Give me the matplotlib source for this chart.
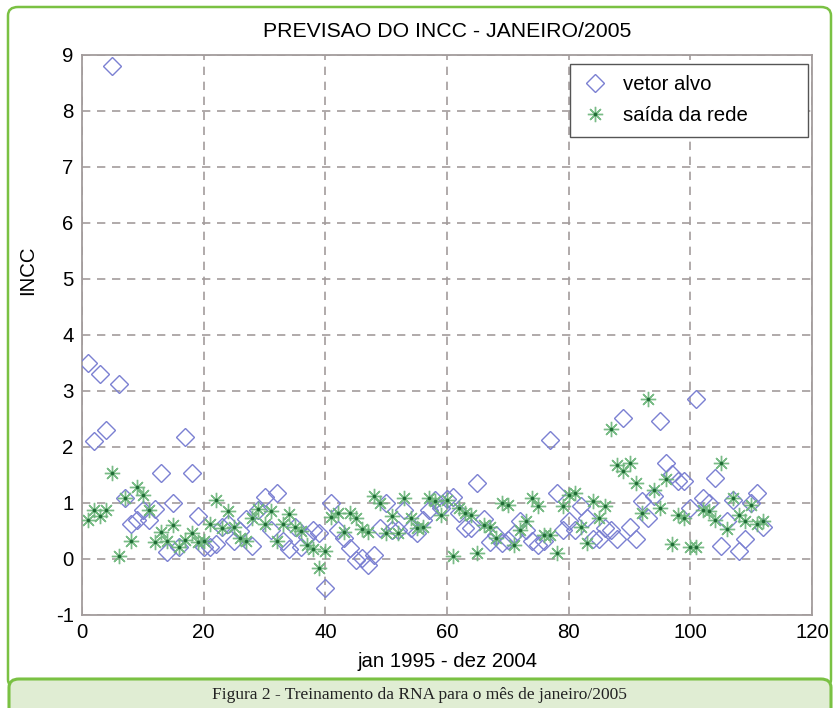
import numpy as np
import matplotlib
matplotlib.use("Agg")
import matplotlib.pyplot as plt
from matplotlib.patches import FancyBboxPatch
from matplotlib.legend_handler import HandlerTuple

# Dados (INCC mensal, jan 1995 - dez 2004)
vetor_alvo = [
    3.50, 2.10, 3.30, 2.30, 8.80, 3.12, 1.09, 0.63, 0.70, 0.88,
    0.70, 0.89, 1.54, 0.12, 1.00, 0.22, 2.17, 1.54, 0.76, 0.22,
    0.22, 0.27, 0.57, 0.62, 0.33, 0.50, 0.72, 0.24, 0.88, 1.10,
    0.52, 1.18, 0.32, 0.17, 0.58, 0.22, 0.40, 0.52, 0.46, -0.52,
    1.00, 0.52, 0.37, 0.20, -0.01, 0.02, -0.10, 0.08, 0.55, 1.00,
    0.52, 0.52, 0.88, 0.55, 0.46, 0.70, 0.88, 1.06, 0.91, 1.07,
    1.10, 0.82, 0.56, 0.56, 1.36, 0.72, 0.30, 0.42, 0.28, 0.34,
    0.45, 0.67, 0.52, 0.33, 0.25, 0.33, 2.12, 1.18, 0.52, 0.67,
    0.52, 0.94, 0.73, 0.35, 0.35, 0.55, 0.52, 0.35, 2.52, 0.58,
    0.35, 1.03, 0.73, 1.12, 2.46, 1.71, 1.51, 1.39, 1.39, 0.91,
    2.85, 1.09, 1.00, 1.45, 0.23, 0.67, 1.06, 0.14, 0.35, 1.00,
    1.18, 0.58,
]
saida_rede = [
    0.69, 0.87, 0.76, 0.87, 1.54, 0.05, 1.09, 0.33, 1.28, 1.14,
    0.88, 0.30, 0.48, 0.33, 0.61, 0.22, 0.34, 0.46, 0.30, 0.33,
    0.62, 1.06, 0.56, 0.85, 0.58, 0.38, 0.33, 0.73, 0.90, 0.62,
    0.85, 0.32, 0.62, 0.80, 0.58, 0.50, 0.25, 0.17, -0.16, 0.14,
    0.75, 0.82, 0.49, 0.82, 0.73, 0.54, 0.49, 1.12, 1.00, 0.46,
    0.76, 0.46, 1.09, 0.73, 0.55, 0.58, 1.09, 1.03, 0.79, 1.05,
    0.05, 0.91, 0.82, 0.79, 0.11, 0.61, 0.58, 0.37, 1.00, 0.97,
    0.25, 0.52, 0.67, 1.09, 0.94, 0.43, 0.43, 0.10, 0.94, 1.15,
    1.18, 0.58, 0.29, 1.03, 0.73, 0.94, 2.32, 1.68, 1.57, 1.71,
    1.36, 0.82, 2.85, 1.24, 0.91, 1.42, 0.27, 0.79, 0.73, 0.21,
    0.21, 0.88, 0.85, 0.70, 1.71, 0.54, 1.09, 0.79, 0.67, 0.97,
    0.63, 0.67,
]
meses = np.arange(1, len(vetor_alvo) + 1)

x_ticks = [0, 20, 40, 60, 80, 100, 120]
y_ticks = [-1, 0, 1, 2, 3, 4, 5, 6, 7, 8, 9]

plt.rcParams['font.family'] = ['Liberation Sans', 'DejaVu Sans']
plt.rcParams['axes.unicode_minus'] = False

fig = plt.figure(figsize=(8.38, 7.08), dpi=100)

# moldura verde e faixa da legenda da figura (atrás dos eixos)
verde = '#7ac143'
fig.patches.append(FancyBboxPatch((8 / 838, 20 / 708), 823 / 838, 681 / 708,
                                  boxstyle='round,pad=0,rounding_size=0.012',
                                  transform=fig.transFigure, facecolor='white',
                                  edgecolor=verde, linewidth=1.8, zorder=-3))
fig.patches.append(FancyBboxPatch((9 / 838, -20 / 708), 822 / 838, 49 / 708,
                                  boxstyle='round,pad=0,rounding_size=0.012',
                                  transform=fig.transFigure, facecolor='#e0edd3',
                                  edgecolor=verde, linewidth=2.2, zorder=-2))
fig.text(0.5, 13 / 708, 'Figura 2 - Treinamento da RNA para o mês de janeiro/2005',
         ha='center', va='center', fontsize=12.5, family='Liberation Serif',
         color='#222222')

ax = fig.add_axes([82 / 838, 93 / 708, 730 / 838, 560 / 708])
ax.set_facecolor('white')

cinza = '#a39c9c'
ax.grid(True, color=cinza, linestyle=(0, (5, 4)), linewidth=1.2)
ax.set_axisbelow(True)
for s in ax.spines.values():
    s.set_color(cinza)
    s.set_linewidth(1.3)

h_alvo, = ax.plot(meses, vetor_alvo, linestyle='none', marker='D', markersize=9,
                  markerfacecolor='none', markeredgecolor='#7b80d2',
                  markeredgewidth=1.0, zorder=3)
h_rede, = ax.plot(meses, saida_rede, linestyle='none', marker=(8, 2, 0),
                  markersize=11, markeredgecolor='#6cb57a', markeredgewidth=1.0,
                  alpha=0.9, zorder=4)
h_ponto, = ax.plot(meses, saida_rede, linestyle='none', marker='o', markersize=2.6,
                   markerfacecolor='#1f6b35', markeredgecolor='none', zorder=5)

ax.set_xlim(0, 120)
ax.set_ylim(-1, 9)
ax.set_xticks(x_ticks)
ax.set_yticks(y_ticks)
ax.tick_params(direction='in', length=0, labelsize=14.7, colors='black', pad=6)

ax.set_title('PREVISAO DO INCC - JANEIRO/2005', fontsize=15.3, pad=13)
ax.set_xlabel('jan 1995 - dez 2004', fontsize=14.7)
ax.xaxis.set_label_coords(0.5, -0.066)
ax.set_ylabel('INCC', fontsize=14.7)
ax.yaxis.set_label_coords(-0.062, 0.615)

# caixa da legenda: x 570-808 px, y 64-140 px
leg = ax.legend([h_alvo, (h_rede, h_ponto)], ['vetor alvo', 'saída da rede'],
                handler_map={tuple: HandlerTuple(ndivide=1)},
                loc='upper left', mode='expand',
                bbox_to_anchor=(488 / 730, 475 / 560, 238 / 730, 76 / 560),
                fontsize=14.7, fancybox=False, framealpha=1,
                edgecolor='#555555', borderpad=0.55, labelspacing=0.6,
                handlelength=1.3, handletextpad=0.75, borderaxespad=0)
leg.get_frame().set_linewidth(1.0)

fig.savefig('out.png', dpi=100)
